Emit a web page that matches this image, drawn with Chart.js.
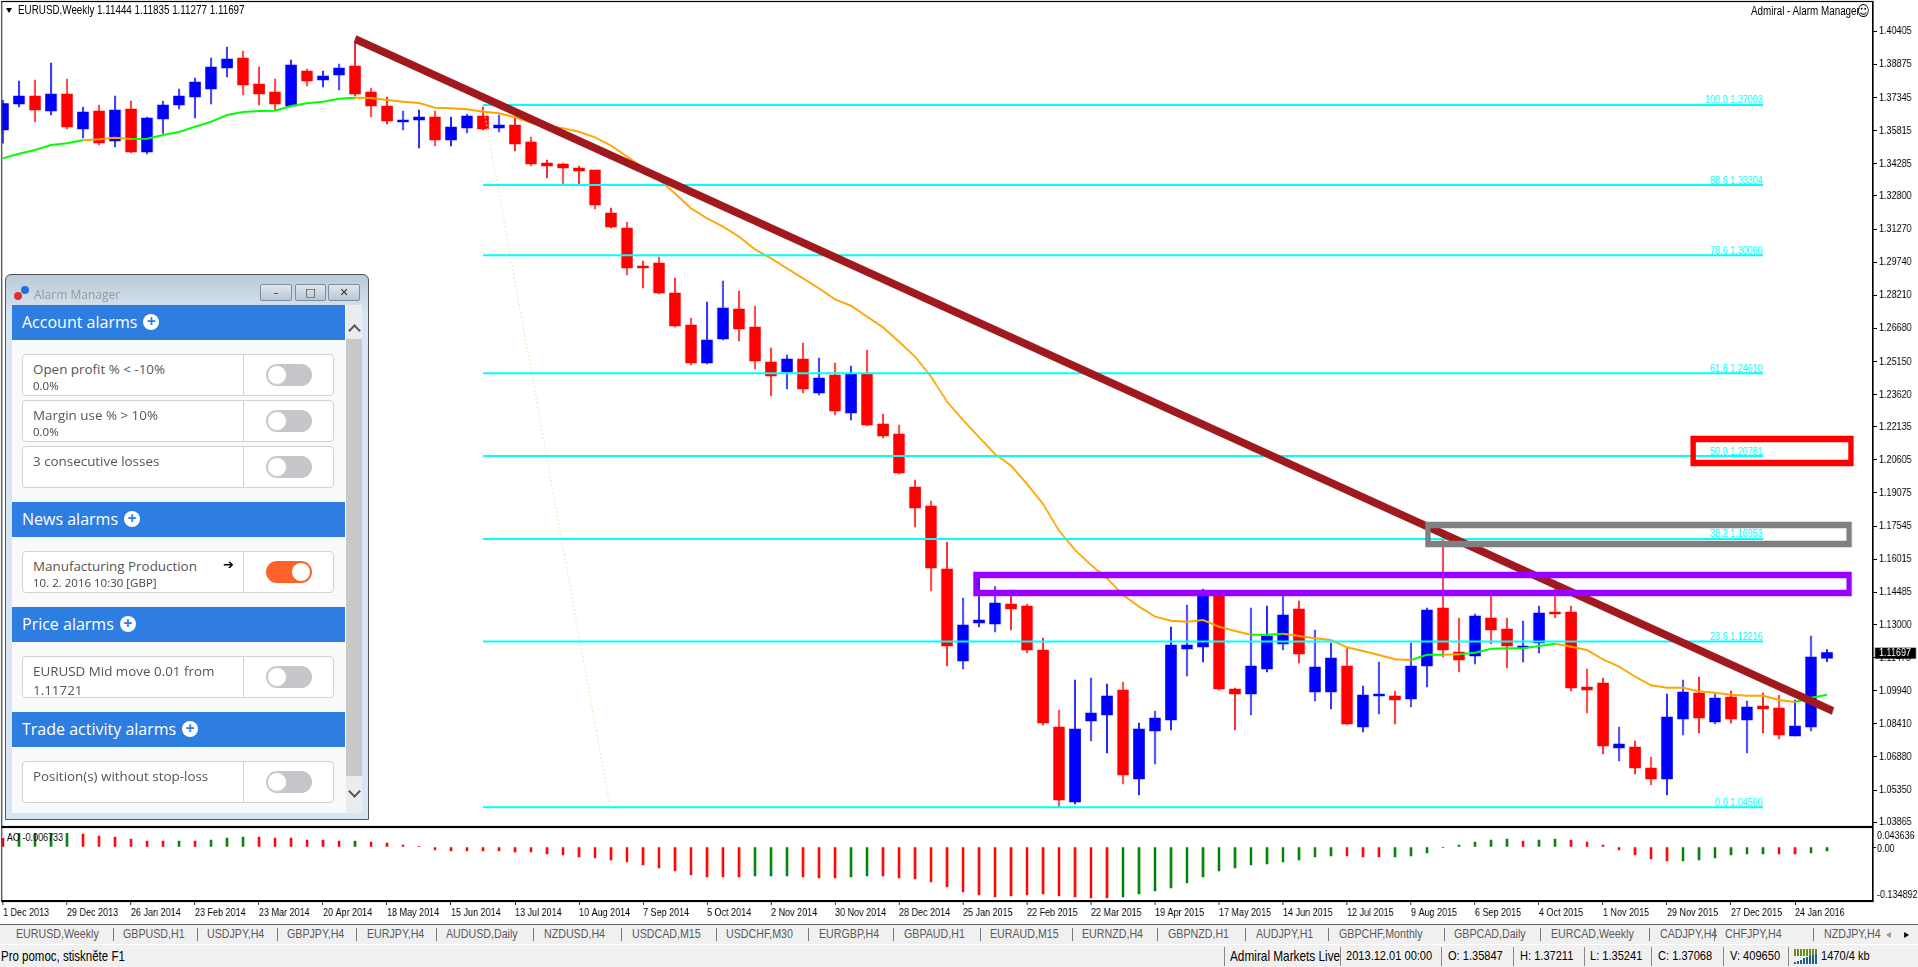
<!DOCTYPE html>
<html>
<head>
<meta charset="utf-8">
<title>EURUSD,Weekly</title>
<script src="https://cdn.jsdelivr.net/npm/chart.js@4"></script>
<style>
  html, body { margin: 0; padding: 0; background: #fff; overflow: hidden; }
  #page { position: relative; width: 1918px; height: 967px; overflow: hidden; font-family: "Liberation Sans", sans-serif; }
  /* the terminal screenshot is squeezed sideways, so the canvases are drawn wide and narrowed */
  canvas { position: absolute; left: 0; transform: scaleX(0.82); transform-origin: 0 0; }
  .txt { position: absolute; white-space: nowrap; line-height: 14px; color: #000; transform: scaleX(0.82); transform-origin: 0 0; }
  #panel { position: absolute; left: 5px; top: 274px; width: 364px; height: 546px; box-sizing: border-box; border: 1px solid #555; border-radius: 6px 6px 0 0; background: linear-gradient(#bccad8, #d8e5f2 40px); font-family: "Open Sans", sans-serif; }
  #panel .abs { position: absolute; }
  .head { position: absolute; left: 6px; width: 333px; height: 35px; background: #2e7de1; color: #fff; font-size: 16px; line-height: 35px; text-indent: 10px; }
  .plus { display: inline-block; width: 16px; height: 16px; margin-left: 6px; border-radius: 50%; background: #fff; color: #2e7de1; font-size: 16px; font-weight: bold; line-height: 15px; text-indent: 0; text-align: center; vertical-align: 1px; }
  .row { position: absolute; left: 16px; width: 312px; height: 42px; box-sizing: border-box; border: 1px solid #d2d2d2; border-radius: 4px; background: #fff; color: #555; font-size: 13.4px; overflow: hidden; }
  .row .t1 { position: absolute; left: 10px; top: 5px; white-space: nowrap; line-height: 19px; }
  .row .t2 { position: absolute; left: 10px; top: 24px; white-space: nowrap; font-size: 11.5px; line-height: 14px; color: #444; }
  .row .div { position: absolute; left: 220px; top: 0; width: 1px; height: 42px; background: #d2d2d2; }
  .tog { position: absolute; left: 243px; top: 9px; width: 46px; height: 22px; border-radius: 11px; background: #c6c6ca; }
  .tog i { position: absolute; left: 1px; top: 1px; width: 18px; height: 18px; border: 1px solid #ccc; border-radius: 50%; background: #fff; }
  .tog.on { background: #ff6228; }
  .tog.on i { left: 25px; border-color: #ff6228; }
  .wbtn { position: absolute; top: 9px; height: 17px; box-sizing: border-box; border: 1px solid #7d8ea0; border-radius: 2px; background: linear-gradient(#dfe7ef, #b9c7d5); text-align: center; font: 11px/15px "DejaVu Sans", sans-serif; color: #333; }
  .chev { position: absolute; left: 344px; width: 7px; height: 7px; border-left: 2.5px solid #555; border-top: 2.5px solid #555; transform: rotate(45deg); }
</style>
</head>
<body>
<div id="page">
  <canvas id="mainCanvas" width="2339" height="827" style="top:0;width:2339px;height:827px"></canvas>
  <canvas id="acCanvas" width="2339" height="93" style="top:827px;width:2339px;height:93px"></canvas>
  <div id="overlay"></div>
  <div id="panel"></div>
</div>

<script>
////////////////
// CHART DATA //
////////////////

var candleOpen = [
  1.35847,1.37046,1.37416,1.36723,1.37508,1.35891,1.36723,1.35337,1.36815,1.34829,
  1.36353,1.37000,1.37370,1.37739,1.38709,1.39171,1.37970,1.37601,1.36954,1.38571,
  1.38155,1.38386,1.38802,1.37601,1.36954,1.36215,1.36307,1.36446,1.35383,1.35937,
  1.36492,1.35937,1.36076,1.35291,1.34320,1.34274,1.34089,1.33997,1.32010,1.31317,
  1.29562,1.29700,1.28314,1.26836,1.25080,1.26189,1.27575,1.26744,1.25127,1.24665,
  1.25265,1.23694,1.24526,1.22771,1.24572,1.22262,1.21800,1.19352,1.18474,1.15563,
  1.11313,1.13068,1.13022,1.13946,1.13854,1.11821,1.08264,1.04799,1.08541,1.08818,
  1.09973,1.05861,1.08079,1.08587,1.11867,1.11960,1.14439,1.10019,1.09788,1.10943,
  1.12098,1.13715,1.09881,1.09881,1.11082,1.08264,1.09696,1.09696,1.09557,1.11082,
  1.13761,1.11729,1.11544,1.13299,1.12791,1.11913,1.12144,1.13577,1.13577,1.10112,
  1.10296,1.07293,1.07340,1.06369,1.05861,1.08633,1.09834,1.08495,1.09650,1.08587,
  1.09234,1.09141,1.07848,1.08264,1.11444
];
var candleHigh = [
  1.37211,1.38109,1.38155,1.38940,1.38201,1.36908,1.37000,1.37416,1.37185,1.36446,
  1.37185,1.37739,1.38247,1.39171,1.39680,1.39495,1.38756,1.38201,1.39079,1.38663,
  1.38571,1.38894,1.39930,1.37785,1.37370,1.36723,1.36769,1.36723,1.36446,1.36584,
  1.36908,1.36538,1.36399,1.35522,1.34459,1.34320,1.34182,1.33997,1.32241,1.31595,
  1.29793,1.29978,1.29007,1.27159,1.27899,1.28869,1.28407,1.27714,1.25773,1.25450,
  1.26004,1.25311,1.25080,1.24942,1.25681,1.22724,1.22216,1.19675,1.18705,1.16811,
  1.14223,1.15132,1.14747,1.14593,1.13946,1.12375,1.09049,1.10435,1.10527,1.10250,
  1.10343,1.08448,1.09003,1.12884,1.13900,1.14639,1.14501,1.10065,1.13761,1.13854,
  1.14439,1.14085,1.12745,1.12144,1.11913,1.10158,1.11267,1.09927,1.12144,1.13761,
  1.17140,1.13299,1.13484,1.14439,1.13299,1.13161,1.13854,1.14670,1.13854,1.10943,
  1.10527,1.08264,1.07617,1.06878,1.09788,1.10435,1.10574,1.09788,1.09927,1.09465,
  1.09834,1.09742,1.09511,1.12468,1.11835
];
var candleLow = [
  1.35241,1.36908,1.36215,1.36538,1.35891,1.35475,1.35152,1.35060,1.34782,1.34736,
  1.35691,1.36815,1.36399,1.37046,1.38294,1.37462,1.37000,1.36769,1.36908,1.37878,
  1.37832,1.37693,1.37416,1.36446,1.36122,1.35845,1.35013,1.35106,1.35106,1.35706,
  1.35845,1.35753,1.34875,1.34182,1.33627,1.33350,1.33350,1.32195,1.31317,1.29146,
  1.28545,1.28268,1.26744,1.24988,1.25034,1.26143,1.26097,1.24803,1.23556,1.23879,
  1.23694,1.23602,1.22678,1.22447,1.22170,1.21615,1.19952,1.17504,1.14547,1.11082,
  1.10943,1.12884,1.12653,1.12745,1.11682,1.08356,1.04568,1.04706,1.07617,1.07062,
  1.05630,1.05122,1.06554,1.08125,1.10620,1.11267,1.09973,1.08125,1.08818,1.10805,
  1.11821,1.11220,1.09465,1.09095,1.08356,1.08033,1.08864,1.08402,1.09188,1.10112,
  1.11498,1.10805,1.11174,1.12098,1.10989,1.11267,1.11682,1.13299,1.09927,1.08910,
  1.07016,1.06693,1.06092,1.05584,1.05122,1.07894,1.07986,1.08402,1.08448,1.07062,
  1.07986,1.07709,1.07848,1.08079,1.11277
];
var candleClose = [
  1.37068,1.37416,1.36769,1.37508,1.35984,1.36677,1.35244,1.36769,1.34829,1.36399,
  1.37000,1.37416,1.38063,1.38756,1.39125,1.37924,1.37508,1.37046,1.38848,1.38109,
  1.38340,1.38709,1.37508,1.36954,1.36261,1.36307,1.36446,1.35383,1.35984,1.36492,
  1.35891,1.36076,1.35198,1.34274,1.34182,1.34089,1.33951,1.32380,1.31364,1.29469,
  1.29469,1.28314,1.26790,1.25080,1.26143,1.27621,1.26651,1.25173,1.24480,1.25265,
  1.23879,1.24387,1.22863,1.24572,1.22216,1.21708,1.19998,1.18381,1.15609,1.12006,
  1.12976,1.13207,1.13992,1.13715,1.11821,1.08448,1.04891,1.08171,1.08910,1.09696,
  1.06046,1.08171,1.08679,1.12051,1.12051,1.14501,1.10019,1.09788,1.11082,1.12468,
  1.13438,1.11636,1.11036,1.11451,1.08402,1.09742,1.09788,1.09511,1.11082,1.13669,
  1.11821,1.11359,1.13392,1.12745,1.12006,1.12006,1.13530,1.13484,1.10065,1.09973,
  1.07386,1.07478,1.06369,1.05861,1.08726,1.09881,1.08679,1.09603,1.08633,1.09188,
  1.09095,1.07894,1.08310,1.11498,1.11697
];

// moving average, green while rising and orange while falling
var maValues = [
  1.34536,1.34752,1.34921,1.35152,1.35229,1.35368,1.35414,1.35491,1.35429,1.35445,
  1.35614,1.35753,1.35999,1.36230,1.36538,1.36677,1.36723,1.36738,1.36954,1.37077,
  1.37154,1.37293,1.37339,1.37323,1.37231,1.37154,1.37092,1.36877,1.36846,1.36800,
  1.36692,1.36615,1.36430,1.36184,1.36030,1.35922,1.35768,1.35506,1.35121,1.34613,
  1.34120,1.33535,1.32919,1.32226,1.31764,1.31379,1.30917,1.30332,1.29916,1.29454,
  1.28992,1.28530,1.28022,1.27729,1.27221,1.26728,1.26066,1.25373,1.24449,1.23294,
  1.22447,1.21646,1.20876,1.20337,1.19490,1.18566,1.17334,1.16441,1.15748,1.15132,
  1.14362,1.13823,1.13361,1.13176,1.13130,1.13207,1.12899,1.12699,1.12529,1.12529,
  1.12576,1.12468,1.12360,1.12283,1.11944,1.11775,1.11590,1.11390,1.11359,1.11605,
  1.11605,1.11621,1.11698,1.11883,1.11898,1.11898,1.12006,1.12114,1.11975,1.11821,
  1.11390,1.11051,1.10589,1.10189,1.10081,1.10081,1.09911,1.09850,1.09757,1.09711,
  1.09711,1.09511,1.09419,1.09619,1.09757
];
var maGreenFrom = [0, 8, 78, 88, 91, 112];
var maGreenTo = [5, 22, 80, 90, 97, 114];

var acValues = [
  0.02293,0.03616,0.03616,0.03616,0.03616,0.03440,0.02911,0.02646,0.02117,0.01588,
  0.01588,0.01588,0.01588,0.01852,0.02381,0.02646,0.02646,0.02381,0.02381,0.01852,
  0.01852,0.01588,0.01588,0.01323,0.01058,0.00529,0.00088,-0.00794,-0.01058,-0.01058,
  -0.01058,-0.01058,-0.01323,-0.01323,-0.01852,-0.02117,-0.02646,-0.02911,-0.03440,-0.03969,
  -0.04763,-0.05557,-0.06350,-0.07409,-0.07938,-0.07938,-0.07938,-0.07673,-0.07673,-0.07673,
  -0.07938,-0.08203,-0.08203,-0.07938,-0.07673,-0.07673,-0.08203,-0.08467,-0.09261,-0.10584,
  -0.11907,-0.12701,-0.13230,-0.12965,-0.12701,-0.12436,-0.12965,-0.13230,-0.134892,-0.134892,
  -0.13230,-0.12436,-0.11642,-0.10849,-0.09526,-0.07938,-0.06350,-0.05557,-0.04763,-0.04498,
  -0.03969,-0.03440,-0.02646,-0.02381,-0.02381,-0.02646,-0.02646,-0.02646,-0.02381,-0.01588,
  -0.00176,0.00529,0.01323,0.01852,0.02117,0.01588,0.01852,0.02117,0.01852,0.01323,
  0.00529,-0.00794,-0.02117,-0.03175,-0.03704,-0.03704,-0.03440,-0.02911,-0.02117,-0.01852,
  -0.01852,-0.01852,-0.01852,-0.01588,-0.01058
];
var acGreen = [
  0,1,1,1,1,0,0,0,0,0,
  0,1,0,1,1,1,0,0,0,0,
  0,0,1,0,0,0,0,0,0,0,
  0,0,0,0,0,0,0,0,0,0,
  0,0,0,0,0,0,0,1,1,1,
  0,0,0,1,1,0,0,0,0,0,
  0,0,0,0,0,0,0,0,0,0,
  1,1,1,1,1,1,1,1,1,1,
  1,1,1,1,0,0,0,1,1,1,
  1,1,1,1,1,0,1,1,0,0,
  0,0,0,0,0,1,1,1,1,1,
  1,0,0,1,1
];

var dateLabels = ["1 Dec 2013","29 Dec 2013","26 Jan 2014","23 Feb 2014","23 Mar 2014","20 Apr 2014","18 May 2014","15 Jun 2014","13 Jul 2014","10 Aug 2014","7 Sep 2014","5 Oct 2014","2 Nov 2014","30 Nov 2014","28 Dec 2014","25 Jan 2015","22 Feb 2015","22 Mar 2015","19 Apr 2015","17 May 2015","14 Jun 2015","12 Jul 2015","9 Aug 2015","6 Sep 2015","4 Oct 2015","1 Nov 2015","29 Nov 2015","27 Dec 2015","24 Jan 2016"];
var priceTicks = [1.40405,1.38875,1.37345,1.35815,1.34285,1.32800,1.31270,1.29740,1.28210,1.26680,1.25150,1.23620,1.22135,1.20605,1.19075,1.17545,1.16015,1.14485,1.13000,1.11470,1.09940,1.08410,1.06880,1.05350,1.03865];
var acTicks = [0.043636, 0, -0.134892];
var acTickLabels = ["0.043636", "0.00", "-0.134892"];

var fibLevels = ["100.0","88.6","78.6","61.8","50.0","38.2","23.6","0.0"];
var fibPrices = [1.37003,1.33304,1.30060,1.24610,1.20781,1.16953,1.12216,1.04560];
var fibFromBar = 30;
var fibToBar = 110;
var fibTrendBars = [30, 37.94];
var fibTrendPrices = [1.37003, 1.04560];

var trendBars = [22, 114.375];
var trendPrices = [1.40049, 1.09003];

// purple, grey, red boxes
var zoneFrom = [60.81, 89.06, 105.63];
var zoneTo = [115.38, 115.38, 115.5];
var zoneTop = [1.15286, 1.17596, 1.21569];
var zoneBottom = [1.14454, 1.16718, 1.20460];
var zoneColors = ["#9900ff", "#808080", "#ff0000"];

var lastPrice = 1.11697;

var tabNames = ["EURUSD,Weekly","GBPUSD,H1","USDJPY,H4","GBPJPY,H4","EURJPY,H4","AUDUSD,Daily","NZDUSD,H4","USDCAD,M15","USDCHF,M30","EURGBP,H4","GBPAUD,H1","EURAUD,M15","EURNZD,H4","GBPNZD,H1","AUDJPY,H1","GBPCHF,Monthly","GBPCAD,Daily","EURCAD,Weekly","CADJPY,H4","CHFJPY,H4","NZDJPY,H4"];
var tabLeft = [16,123,207,287,367,446,544,632,726,819,904,990,1082,1168,1256,1339,1454,1551,1660,1725,1824];
var tabSeps = [113,197,277,356,436,533,621,716,808,893,980,1072,1157,1245,1328,1444,1540,1649,1714,1813];

var BLUE = "#0000ff", RED = "#ff0000";
var SX = 0.82;
var AXIS_FONT = { family: "'Liberation Sans', sans-serif", size: 11 };
var CANVAS_FONT = "11px 'Liberation Sans', sans-serif";
var X_MIN = -0.0625, X_MAX = 116.875;

///////////////////////
// MAKE PRICE CHART  //
///////////////////////

function wide(px) {
  return px / SX;
}

function pointsOf(bars, prices) {
  return bars.map(function(b, i) { return { x: b, y: prices[i] }; });
}

function makeLine(points, color, width, order, extra) {
  return Object.assign({
    type: "line",
    data: points,
    borderColor: color,
    borderWidth: width,
    pointRadius: 0,
    tension: 0,
    order: order,
    borderCapStyle: "butt"
  }, extra || {});
}

function isMaGreen(i) {
  for (var k = 0; k < maGreenFrom.length; k++) {
    if (i >= maGreenFrom[k] && i < maGreenTo[k]) return true;
  }
  return false;
}

// the tick labels must not push the plot area away from the pane edges
function fitAxis(s, size) {
  if (s.isHorizontal()) s.height = size; else s.width = wide(size);
  s.paddingTop = s.paddingBottom = s.paddingLeft = s.paddingRight = 0;
}

var framePlugin = {
  id: "frame",
  afterDatasetsDraw: function(chart) {
    var a = chart.chartArea, ctx = chart.ctx;
    ctx.save();
    ctx.strokeStyle = "#000";
    ctx.lineWidth = 1.2;
    ctx.strokeRect(a.left - 0.5, a.top - 0.5, a.right - a.left, a.bottom - a.top + 1);
    ctx.restore();
  }
};

var priceLabelsPlugin = {
  id: "priceLabels",
  afterDraw: function(chart) {
    var ctx = chart.ctx, y = chart.scales.y, x = chart.scales.x;
    ctx.save();
    ctx.font = CANVAS_FONT;
    ctx.fillStyle = "#00ffff";
    ctx.textAlign = "right";
    ctx.textBaseline = "bottom";
    fibPrices.forEach(function(p, i) {
      ctx.fillText(fibLevels[i] + " " + p.toFixed(5), x.getPixelForValue(fibToBar), y.getPixelForValue(p) + 1);
    });
    // current price tag
    var py = y.getPixelForValue(lastPrice);
    ctx.fillStyle = "#000";
    ctx.fillRect(chart.chartArea.right + wide(2), py - 5, wide(41), 11);
    ctx.fillStyle = "#fff";
    ctx.textAlign = "left";
    ctx.textBaseline = "middle";
    ctx.fillText(lastPrice.toFixed(5), chart.chartArea.right + wide(6), py + 0.5);
    ctx.restore();
  }
};

function makePriceChart() {
  var bars = candleOpen.map(function(o, i) { return i; });
  var candleColor = function(c) {
    return candleClose[c.dataIndex] >= candleOpen[c.dataIndex] ? BLUE : RED;
  };
  var datasets = [];

  zoneFrom.forEach(function(from, k) {
    var pts = [
      { x: from, y: zoneTop[k] }, { x: zoneTo[k], y: zoneTop[k] },
      { x: zoneTo[k], y: zoneBottom[k] }, { x: from, y: zoneBottom[k] },
      { x: from, y: zoneTop[k] }
    ];
    datasets.push(makeLine(pts, zoneColors[k], 6.5, 1, { borderJoinStyle: "miter", borderCapStyle: "square" }));
  });
  datasets.push(makeLine(pointsOf(trendBars, trendPrices), "#a0191e", 8, 2));
  fibPrices.forEach(function(p) {
    datasets.push(makeLine(pointsOf([fibFromBar, fibToBar], [p, p]), "#00ffff", 2, 3));
  });
  datasets.push(makeLine(pointsOf(fibTrendBars, fibTrendPrices), "#ffdcaa", 1.2, 4, { borderDash: [2, 2] }));
  datasets.push(makeLine(pointsOf(bars, maValues), "#ffa500", 2, 5, {
    segment: { borderColor: function(c) { return isMaGreen(c.p0DataIndex) ? "#00ff00" : "#ffa500"; } }
  }));
  datasets.push({
    type: "bar",
    data: bars.map(function(i) { return { x: i, y: [candleOpen[i], candleClose[i]] }; }),
    backgroundColor: candleColor,
    barThickness: wide(11),
    grouped: false,
    order: 6
  });
  datasets.push({
    type: "bar",
    data: bars.map(function(i) { return { x: i, y: [candleLow[i], candleHigh[i]] }; }),
    backgroundColor: candleColor,
    barThickness: wide(1),
    grouped: false,
    order: 7
  });

  new Chart(document.getElementById("mainCanvas"), {
    data: { datasets: datasets },
    plugins: [framePlugin, priceLabelsPlugin],
    options: {
      responsive: false,
      animation: false,
      events: [],
      layout: { padding: { left: wide(2), top: 2, right: 0, bottom: 1 } },
      plugins: { legend: { display: false }, tooltip: { enabled: false } },
      scales: {
        x: { type: "linear", display: false, min: X_MIN, max: X_MAX, offset: false, grid: { display: false } },
        y: {
          position: "right",
          min: 1.0369,
          max: 1.41759,
          afterFit: function(s) { fitAxis(s, 45); },
          afterBuildTicks: function(s) { s.ticks = priceTicks.map(function(v) { return { value: v }; }); },
          grid: { drawOnChartArea: false, tickLength: wide(4), tickColor: "#000" },
          border: { color: "#000", width: 1.8 },
          ticks: {
            color: "#000",
            font: AXIS_FONT,
            padding: wide(2),
            autoSkip: false,
            callback: function(v) { return v.toFixed(5); }
          }
        }
      }
    }
  });
}

////////////////////
// MAKE AC CHART  //
////////////////////

var acLabelsPlugin = {
  id: "acLabels",
  afterDraw: function(chart) {
    var ctx = chart.ctx, y = chart.scales.y;
    var nudge = [5, 2, -3];
    ctx.save();
    ctx.font = CANVAS_FONT;
    ctx.fillStyle = "#000";
    ctx.textBaseline = "middle";
    acTicks.forEach(function(v, i) {
      ctx.fillText(acTickLabels[i], chart.chartArea.right + wide(4), y.getPixelForValue(v) + nudge[i]);
    });
    ctx.fillText("AO -0.006733", wide(7), 11);
    ctx.restore();
  }
};

function makeAcChart() {
  new Chart(document.getElementById("acCanvas"), {
    type: "bar",
    data: {
      datasets: [{
        data: acValues.map(function(v, i) { return { x: i, y: v }; }),
        backgroundColor: acGreen.map(function(g) { return g ? "#008000" : "#ff0000"; }),
        barThickness: wide(2)
      }]
    },
    plugins: [framePlugin, acLabelsPlugin],
    options: {
      responsive: false,
      animation: false,
      events: [],
      layout: { padding: { left: wide(2), top: 1, right: 0, bottom: 0 } },
      plugins: { legend: { display: false }, tooltip: { enabled: false } },
      scales: {
        x: {
          type: "linear",
          min: X_MIN,
          max: X_MAX,
          offset: false,
          afterFit: function(s) { fitAxis(s, 19); },
          afterBuildTicks: function(s) {
            s.ticks = dateLabels.map(function(d, i) { return { value: i * 4 }; });
          },
          grid: { drawOnChartArea: false, offset: false, tickLength: 4, tickColor: "#000" },
          border: { color: "#000", width: 1.5 },
          ticks: {
            color: "#000",
            font: AXIS_FONT,
            align: "start",
            padding: 1,
            maxRotation: 0,
            autoSkip: false,
            callback: function(v) { return dateLabels[v / 4]; }
          }
        },
        y: {
          position: "right",
          min: -0.14283,
          max: 0.05026,
          afterFit: function(s) { fitAxis(s, 45); },
          afterBuildTicks: function(s) { s.ticks = [{ value: 0 }]; },
          grid: { drawOnChartArea: false, tickLength: wide(3), tickColor: "#000" },
          border: { color: "#000", width: 1.8 },
          ticks: { display: false }
        }
      }
    }
  });
}

///////////////////
// PAGE CHROME   //
///////////////////

function addText(parent, text, left, centerY, size, color, clipWidth) {
  var d = document.createElement("div");
  d.className = "txt";
  d.textContent = text;
  d.style.left = left + "px";
  d.style.top = (centerY - 7) + "px";
  d.style.fontSize = size + "px";
  if (color) d.style.color = color;
  if (clipWidth) { d.style.width = wide(clipWidth) + "px"; d.style.overflow = "hidden"; }
  parent.appendChild(d);
}

function addBox(parent, left, top, width, height, color) {
  var d = document.createElement("div");
  d.style.position = "absolute";
  d.style.left = left + "px";
  d.style.top = top + "px";
  d.style.width = width + "px";
  d.style.height = height + "px";
  d.style.background = color;
  parent.appendChild(d);
}

function makeChrome() {
  var o = document.getElementById("overlay");

  // chart captions
  addBox(o, 6, 8, 0, 0, "transparent");
  o.lastChild.style.borderLeft = "3.5px solid transparent";
  o.lastChild.style.borderRight = "3.5px solid transparent";
  o.lastChild.style.borderTop = "5px solid #000";
  addText(o, "EURUSD,Weekly", 18, 10, 12);
  addText(o, "1.11444 1.11835 1.11277 1.11697", 97, 10, 12);
  addText(o, "Admiral - Alarm Manager", 1751, 11, 12);
  addText(o, "\u263A", 1857, 11, 15);
  o.lastChild.style.fontFamily = "'DejaVu Sans', sans-serif";

  // symbol tabs
  addBox(o, 0, 924, 1918, 20, "#f0f0f0");
  addBox(o, 0, 924, 1918, 1, "#666");
  addBox(o, 0, 945, 1918, 22, "#f0f0f0");
  tabNames.forEach(function(name, i) {
    addText(o, name, tabLeft[i], 934, 13, "#5a5a5a", i === tabNames.length - 1 ? 58 : 0);
  });
  tabSeps.forEach(function(x) { addBox(o, x, 928, 1, 13, "#777"); });
  addText(o, "\u25C2", 1886, 934, 12, "#999");
  addText(o, "\u25B8", 1904, 934, 12, "#000");

  // status bar
  addText(o, "Pro pomoc, stiskn\u011Bte F1", 1, 956, 14);
  var statusSeps = [1224, 1340, 1441, 1513, 1584, 1651, 1723, 1788];
  statusSeps.forEach(function(x) { addBox(o, x, 947, 1, 19, "#888"); });
  addText(o, "Admiral Markets Live", 1230, 956, 14.4, "#000", 110);
  addText(o, "2013.12.01 00:00", 1346, 956, 13.5);
  addText(o, "O: 1.35847", 1448, 956, 13.5);
  addText(o, "H: 1.37211", 1520, 956, 13.5);
  addText(o, "L: 1.35241", 1590, 956, 13.5);
  addText(o, "C: 1.37068", 1658, 956, 13.5);
  addText(o, "V: 409650", 1730, 956, 13.5);
  addText(o, "1470/4 kb", 1821, 956, 13.5);
  for (var i = 0; i < 8; i++) {
    addBox(o, 1794 + i * 3, 949, 2, 7, "#6b8e23");
    addBox(o, 1794 + i * 3, 964 - i * 1.2 - 2, 2, i * 1.2 + 2, "#1f5f8b");
  }
}

////////////////////////
// ALARM MANAGER BOX  //
////////////////////////

function rowHtml(top, t1, t2, on, arrow) {
  return '<div class="row" style="top:' + top + 'px">' +
    '<div class="t1">' + t1 + '</div>' +
    (t2 ? '<div class="t2">' + t2 + '</div>' : '') +
    (arrow ? '<div class="abs" style="left:200px;top:5px;font:13px/16px \'DejaVu Sans\';color:#000">\u2794</div>' : '') +
    '<div class="div"></div>' +
    '<div class="tog' + (on ? ' on' : '') + '"><i></i></div></div>';
}

function headHtml(top, text) {
  return '<div class="head" style="top:' + top + 'px">' + text + '<span class="plus">+</span></div>';
}

function makePanel() {
  var h = '';
  h += '<div class="abs" style="left:8px;top:17px;width:8px;height:8px;border-radius:50%;background:#e23030"></div>';
  h += '<div class="abs" style="left:15px;top:11px;width:8px;height:8px;border-radius:50%;background:#1d72e0"></div>';
  h += '<div class="abs" style="left:28px;top:11px;font-size:12px;line-height:17px;color:#999">Alarm Manager</div>';
  h += '<div class="wbtn" style="left:254px;width:32px">\u2013</div>';
  h += '<div class="wbtn" style="left:289px;width:31px">\u25A1</div>';
  h += '<div class="wbtn" style="left:322px;width:32px">\u2715</div>';
  // content
  h += '<div class="abs" style="left:6px;top:30px;width:350px;height:508px;background:#f8f9fb"></div>';
  // scrollbar
  h += '<div class="abs" style="left:340px;top:30px;width:16px;height:508px;background:#ececec"></div>';
  h += '<div class="abs" style="left:340px;top:64px;width:16px;height:437px;background:#c8c8c8"></div>';
  h += '<div class="chev" style="top:51px"></div>';
  h += '<div class="chev" style="top:512px;transform:rotate(225deg)"></div>';

  h += headHtml(30, "Account alarms");
  h += rowHtml(79, "Open profit % &lt; -10%", "0.0%");
  h += rowHtml(125, "Margin use % &gt; 10%", "0.0%");
  h += rowHtml(171, "3 consecutive losses");
  h += headHtml(227, "News alarms");
  h += rowHtml(276, "Manufacturing Production", "10. 2. 2016 10:30 [GBP]", true, true);
  h += headHtml(332, "Price alarms");
  h += rowHtml(381, "EURUSD Mid move 0.01 from<br>1.11721");
  h += headHtml(437, "Trade activity alarms");
  h += rowHtml(486, "Position(s) without stop-loss");
  document.getElementById("panel").innerHTML = h;
}

makePriceChart();
makeAcChart();
makeChrome();
makePanel();
</script>
</body>
</html>
